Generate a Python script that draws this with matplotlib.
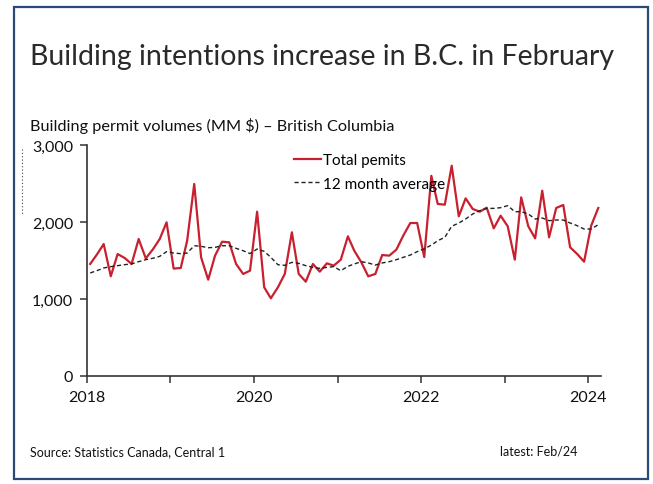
import pandas as pd
import matplotlib.pyplot as plt
from matplotlib.patches import Rectangle
from matplotlib.lines import Line2D

plt.rcParams['font.family'] = ['Lato', 'DejaVu Sans']

# monthly building permit values, Jan 2018 - Feb 2024 (MM $)
months = pd.date_range("2018-01-01", "2024-02-01", freq="MS") + pd.Timedelta(days=14)

total_permits = [
    1455, 1585, 1714, 1295, 1584, 1532, 1455, 1779, 1528, 1640, 1779, 1996,
    1395, 1403, 1757, 2494, 1541, 1251, 1563, 1744, 1736, 1455, 1325, 1368,
    2134, 1152, 1009, 1152, 1325, 1866, 1325, 1225, 1455, 1355, 1463, 1433,
    1511, 1814, 1627, 1476, 1295, 1325, 1571, 1563, 1641, 1822, 1987, 1987,
    1545, 2600, 2234, 2225, 2731, 2074, 2307, 2169, 2134, 2186, 1918, 2082,
    1944, 1511, 2320, 1944, 1788, 2407, 1801, 2182, 2221, 1671, 1584, 1485,
    1952, 2182,
]

avg_12m = [
    1338, 1370, 1403, 1420, 1433, 1446, 1455, 1485, 1511, 1528, 1554, 1615,
    1597, 1589, 1597, 1692, 1684, 1666, 1671, 1692, 1692, 1658, 1627, 1590,
    1649, 1619, 1541, 1445, 1437, 1476, 1463, 1433, 1411, 1398, 1411, 1420,
    1368, 1424, 1455, 1485, 1468, 1441, 1468, 1485, 1511, 1541, 1571, 1615,
    1652, 1700, 1757, 1801, 1944, 1987, 2039, 2104, 2147, 2177, 2177, 2186,
    2212, 2134, 2134, 2104, 2039, 2052, 2017, 2026, 2026, 1987, 1952, 1909,
    1909, 1965,
]

year_ticks = pd.date_range("2018-01-01", "2024-01-01", freq="YS")
year_labels = ["2018", "", "2020", "", "2022", "", "2024"]

fig = plt.figure(figsize=(6.53, 4.85), dpi=100)
ax = fig.add_axes([87/653, 1-377/485, (601-87)/653, (377-146)/485])

ax.plot(months, total_permits, color="#c8202f", lw=1.6, label="Total pemits")
ax.plot(months, avg_12m, color="#222222", lw=1.0, ls=(0, (3, 2)), label="12 month average")

ax.set_ylim(0, 3000)
ax.set_yticks([0, 1000, 2000, 3000])
ax.set_yticklabels(["0", "1,000", "2,000", "3,000"])
ax.set_xlim(pd.Timestamp("2018-01-01"), pd.Timestamp("2024-02-27"))
ax.set_xticks(year_ticks)
ax.set_xticklabels(year_labels)

for s in ["top", "right"]:
    ax.spines[s].set_visible(False)
for s in ["left", "bottom"]:
    ax.spines[s].set_color("#333333")
    ax.spines[s].set_linewidth(1.2)
ax.tick_params(axis="both", direction="out", length=5, width=1.1, color="#333333",
               labelsize=11.5, labelcolor="#111111", pad=5)

ax.legend(loc="upper left", bbox_to_anchor=(0.39, 0.99), frameon=False,
          fontsize=11, handlelength=1.8, handletextpad=0.1, labelspacing=0.6,
          borderaxespad=0)

# titles and notes
fig.text(30/653, 1-57/485, "Building intentions increase in B.C. in February",
         fontsize=20.5, color="#2a2a2a", va="center", ha="left")
fig.text(30/653, 1-126/485, "Building permit volumes (MM $) \u2013 British Columbia",
         fontsize=11.7, color="#111111", va="center", ha="left")
fig.text(30/653, 1-452/485, "Source: Statistics Canada, Central 1",
         fontsize=9, color="#111111", va="center", ha="left")
fig.text(500/653, 1-452/485, "latest: Feb/24",
         fontsize=9, color="#111111", va="center", ha="left")

# outer frame and small dotted mark at left
fig.add_artist(Rectangle((14/653, 0.01), (648-14)/653, 1-8/485-0.01, transform=fig.transFigure,
                         fill=False, edgecolor="#2c4a78", lw=1.6))
fig.add_artist(Line2D([22/653, 22/653], [1-150/485, 1-215/485], transform=fig.transFigure,
                      color="#444444", lw=0.8, ls=(0, (1, 2))))

fig.savefig("out.png", dpi=100)
